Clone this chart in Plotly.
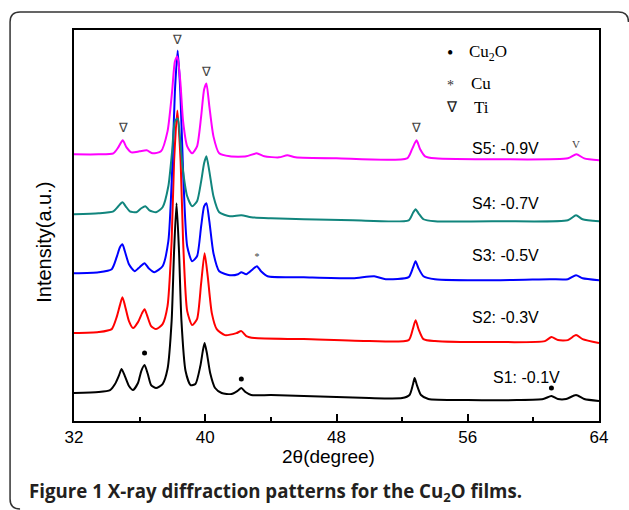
import plotly.graph_objects as go

# ---- data (2theta in degrees, intensity in a.u.) ----
s1_x = [32.0, 33.5, 34.2, 34.5, 34.75, 34.9, 35.1, 35.35, 35.6, 35.9, 36.1, 36.3, 36.5, 36.7, 37.0, 37.4, 37.7, 37.95,
        38.1, 38.25, 38.4, 38.55, 38.8, 39.1, 39.4, 39.7, 39.85, 39.96, 40.1, 40.3, 40.6, 41.0, 41.6, 41.95, 42.2, 42.45,
        42.8, 44.0, 46.0, 48.0, 50.0, 52.0, 52.45, 52.65, 52.76, 52.9, 53.15, 53.6, 56.0, 59.0, 60.6, 61.1, 61.5, 62.0,
        62.6, 63.1, 64.0]
s1_y = [28, 29, 31, 37, 46, 52, 45, 35, 31, 38, 50, 56, 47, 36, 33, 37, 52, 100,
        170, 218, 170, 100, 50, 36, 37, 55, 70, 78, 68, 48, 33, 28, 27, 30, 33, 29,
        26, 26, 25, 24, 23, 23, 26, 36, 43, 36, 26, 22, 21, 21, 22, 25, 22, 22,
        26, 22, 20]

s2_x = [32.0, 33.5, 34.3, 34.6, 34.8, 34.95, 35.1, 35.35, 35.6, 35.9, 36.15, 36.3, 36.45, 36.7, 37.0, 37.4, 37.7, 37.95,
        38.1, 38.3, 38.5, 38.65, 38.9, 39.2, 39.5, 39.75, 39.96, 40.15, 40.4, 40.7, 41.2, 41.9, 42.2, 42.5, 43.0, 46.0,
        50.0, 52.4, 52.65, 52.82, 53.0, 53.3, 54.0, 58.0, 60.7, 61.1, 61.5, 62.1, 62.6, 63.0, 64.0]
s2_y = [88, 89, 92, 104, 116, 124, 116, 100, 93, 99, 108, 112, 106, 95, 92, 97, 115, 180,
        260, 311, 260, 180, 110, 96, 102, 138, 168, 145, 108, 92, 86, 88, 90, 85, 83, 82,
        80, 81, 92, 101, 92, 82, 80, 79, 80, 84, 81, 81, 86, 82, 78]

s3_x = [32.0, 33.5, 34.3, 34.6, 34.8, 34.95, 35.1, 35.35, 35.7, 36.0, 36.3, 36.55, 36.9, 37.4, 37.75, 37.98, 38.15,
        38.32, 38.48, 38.65, 38.9, 39.2, 39.5, 39.75, 39.93, 40.07, 40.25, 40.5, 40.85, 41.5, 42.0, 42.2, 42.5, 42.9,
        43.15, 43.4, 43.8, 46.0, 49.0, 50.3, 51.0, 52.4, 52.65, 52.82, 53.0, 53.3, 54.0, 58.0, 61.0, 62.1, 62.6, 63.0,
        64.0]
s3_y = [148, 149, 152, 164, 174, 177, 170, 157, 150, 154, 158, 153, 149, 155, 180, 250, 330,
        371, 330, 250, 175, 160, 165, 195, 215, 218, 200, 168, 150, 146, 147, 149, 147, 152,
        155, 150, 145, 144, 143, 145, 142, 144, 153, 160, 153, 145, 142, 141, 142, 142, 146, 143,
        141]

s4_x = [32.0, 33.5, 34.4, 34.7, 34.95, 35.15, 35.4, 35.8, 36.1, 36.35, 36.6, 37.0, 37.4, 37.75, 37.98, 38.15, 38.32,
        38.48, 38.65, 38.9, 39.2, 39.5, 39.75, 39.93, 40.07, 40.25, 40.5, 40.85, 41.5, 42.2, 42.8, 44.0, 46.0, 49.0,
        52.4, 52.65, 52.82, 53.0, 53.3, 54.0, 58.0, 62.1, 62.6, 63.0, 64.0]
s4_y = [207, 208, 210, 215, 219, 215, 210, 209, 213, 215, 211, 209, 214, 235, 270, 300, 303,
        280, 250, 225, 215, 220, 240, 258, 265, 250, 225, 209, 205, 206, 204, 203, 202, 201,
        201, 208, 212, 208, 202, 200, 200, 201, 206, 202, 200]

s5_x = [32.0, 33.5, 34.4, 34.7, 34.97, 35.2, 35.5, 36.0, 36.43, 36.8, 37.3, 37.7, 37.98, 38.15, 38.3, 38.48, 38.65,
        38.9, 39.2, 39.5, 39.75, 39.93, 40.07, 40.25, 40.5, 40.85, 41.5, 42.5, 43.13, 43.6, 44.5, 45.0, 45.5, 48.0,
        52.3, 52.6, 52.88, 53.1, 53.4, 54.0, 58.0, 62.1, 62.62, 63.1, 64.0]
s5_y = [267, 267, 268, 274, 281, 274, 269, 270, 271, 268, 270, 290, 330, 360, 365, 340, 300,
        275, 268, 275, 305, 332, 338, 315, 285, 268, 265, 265, 268, 265, 264, 266, 264, 263,
        263, 272, 281, 272, 265, 263, 262, 263, 267, 263, 261]

series_names = ["S1: -0.1V", "S2: -0.3V", "S3: -0.5V", "S4: -0.7V", "S5: -0.9V"]
series_colors = ["#000000", "#ff0000", "#0000ff", "#11857d", "#ff00ff"]
label_x = [59.6, 58.3, 58.3, 58.3, 58.3]
label_y = [44, 104, 166, 218, 273]

# phase markers
ti_x = [35.0, 38.3, 40.1, 52.9]
ti_y = [293, 381, 349, 293]
ti_edge_x = [62.6]
ti_edge_y = [276]
cu2o_x = [36.3, 42.2, 61.1]
cu2o_y = [68, 42, 33]
cu_x = [43.15]
cu_y = [164]

W, H = 629, 510
L, R, T, B = 73.5, 599, 29.5, 421
PW, PH = R - L, B - T


def px(x):
    return (x - L) / PW


def py(y):
    return (B - y) / PH


fig = go.Figure()
for xs, ys, col in zip([s1_x, s2_x, s3_x, s4_x, s5_x], [s1_y, s2_y, s3_y, s4_y, s5_y], series_colors):
    fig.add_trace(go.Scatter(x=xs, y=ys, mode="lines", line=dict(color=col, width=2, shape="spline", smoothing=0.6),
                             showlegend=False, hoverinfo="skip"))

fig.add_trace(go.Scatter(x=ti_x, y=ti_y, mode="text", text=["∇"] * len(ti_x),
                         textfont=dict(family="Liberation Serif", size=13, color="#444"), showlegend=False))
fig.add_trace(go.Scatter(x=ti_edge_x, y=ti_edge_y, mode="text", text=["V"],
                         textfont=dict(family="Liberation Serif", size=11, color="#444"), showlegend=False))
fig.add_trace(go.Scatter(x=cu2o_x, y=cu2o_y, mode="markers", marker=dict(color="black", size=5),
                         showlegend=False))
fig.add_trace(go.Scatter(x=cu_x, y=cu_y, mode="text", text=["*"],
                         textfont=dict(family="Liberation Serif", size=10, color="#444"), showlegend=False))

ann = []
for name, lx, ly in zip(series_names, label_x, label_y):
    ann.append(dict(x=lx, y=ly, xref="x", yref="y", text=name, showarrow=False,
                    xanchor="center", yanchor="middle",
                    font=dict(family="Liberation Sans", size=16, color="black")))


def pa(x, y, text, font, xanchor="center", **kw):
    return dict(x=px(x), y=py(y), xref="paper", yref="paper", text=text, showarrow=False,
                xanchor=xanchor, yanchor="middle", font=font, **kw)


# legend block (serif)
leg_font = dict(family="Liberation Serif", size=17, color="black")
ann += [
    pa(450, 53, "•", dict(family="Liberation Serif", size=18, color="black")),
    pa(467, 53, "Cu<sub>2</sub>O", leg_font, xanchor="left"),
    pa(450, 85, "*", dict(family="Liberation Serif", size=14, color="#333")),
    pa(469, 83, "Cu", leg_font, xanchor="left"),
    pa(452, 107, "∇", dict(family="Liberation Serif", size=15, color="#222")),
    pa(472, 107, "Ti", leg_font, xanchor="left"),
]

# axis titles
ann.append(pa(44, 242, "Intensity(a.u.)", dict(family="Liberation Sans", size=20, color="black"), textangle=-90))
ann.append(pa(328, 457, "2θ(degree)", dict(family="Liberation Sans", size=19, color="black")))
# caption
ann.append(pa(26, 492, "<b>Figure 1 X-ray diffraction patterns for the Cu<sub>2</sub>O films.</b>",
              dict(family="Open Sans", size=18.7, color="#231f20"), xanchor="left"))

# outer rounded frame
r = 10
x0, x1, y0, y1 = 9.5, 628.5, 11.5, 509
path = (f"M {px(x0)},{py(y0 + r)} Q {px(x0)},{py(y0)} {px(x0 + r)},{py(y0)} "
        f"L {px(x1 - r)},{py(y0)} Q {px(x1)},{py(y0)} {px(x1)},{py(y0 + r)} "
        f"M {px(x0)},{py(y0 + r)} L {px(x0)},{py(y1 - r)} Q {px(x0)},{py(y1)} {px(x0 + r)},{py(y1)}")
shapes = [dict(type="path", xref="paper", yref="paper", path=path, line=dict(color="#333", width=1.5))]

fig.update_layout(
    width=W, height=H, margin=dict(l=L, r=W - R, t=T, b=H - B),
    paper_bgcolor="white", plot_bgcolor="white",
    annotations=ann, shapes=shapes, showlegend=False,
    xaxis=dict(range=[32, 64], tickmode="array", tickvals=[32, 40, 48, 56, 64], ticks="inside", ticklen=7,
               tickwidth=2, tickcolor="black", showline=True, linewidth=2, linecolor="black", mirror=True,
               showgrid=False, zeroline=False, tickfont=dict(family="Liberation Sans", size=17, color="black"),
               minor=dict(tickmode="array", tickvals=[36, 44, 52, 60], ticks="inside", ticklen=4,
                          tickwidth=1.5, tickcolor="black", showgrid=False)),
    yaxis=dict(range=[0, PH], showticklabels=False, ticks="", showline=True, linewidth=2, linecolor="black",
               mirror=True, showgrid=False, zeroline=False),
)

fig.write_html("out.html")
